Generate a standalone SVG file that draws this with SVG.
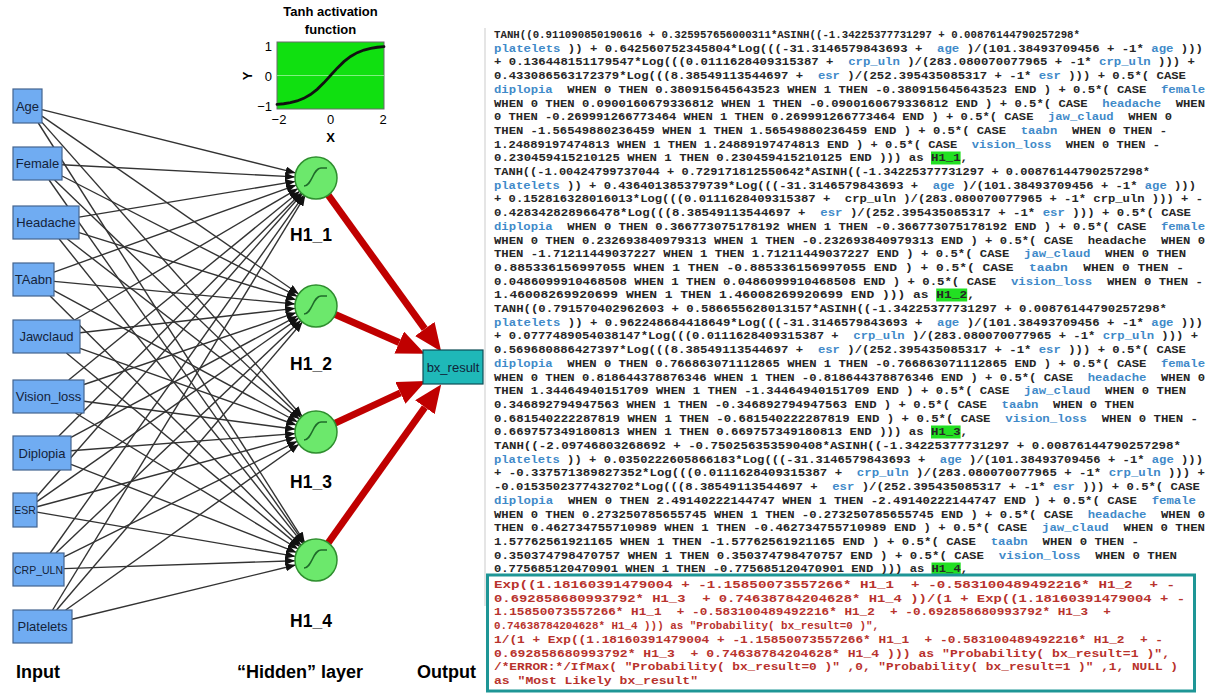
<svg xmlns="http://www.w3.org/2000/svg" xmlns:xlink="http://www.w3.org/1999/xlink" width="1209" height="696" viewBox="0 0 1209 696">
<style>
.lbl{font-family:"Liberation Sans",Arial,sans-serif;fill:#000}
.b{font-weight:bold}
.inbox{fill:#70acf2;stroke:#44648f;stroke-width:1.2}
.intext{font-family:"Liberation Sans",Arial,sans-serif;font-size:13px;fill:#14233a;text-anchor:middle}
.hid{fill:#6ce86c;stroke:#2f8f2f;stroke-width:1.5}
.sig{fill:none;stroke:#1f6b2a;stroke-width:1.6}
.hl{font-family:"Liberation Sans",Arial,sans-serif;font-size:17.5px;font-weight:bold;text-anchor:middle;fill:#000}
.w{stroke:#333;stroke-width:1.4;fill:none;marker-end:url(#ah)}
.red{stroke:#c00000;stroke-width:7;fill:none;marker-end:url(#rh)}
.code{font-family:"Liberation Mono","Courier New",monospace;font-size:11.5px;font-weight:bold;fill:#262626;white-space:pre}
.v{fill:#3f8ac9}
.rt{fill:#b8322c}
.hi{fill:#22e022}
.tick{font-family:"Liberation Sans",Arial,sans-serif;font-size:13px;fill:#000}
</style>
<defs>
<marker id="ah" markerUnits="userSpaceOnUse" viewBox="0 0 10 8" refX="10" refY="4" markerWidth="10" markerHeight="8" orient="auto"><path d="M0,0 L10,4 L0,8 z" fill="#111"/></marker>
<marker id="rh" markerUnits="userSpaceOnUse" viewBox="0 -12 28 24" refX="0" refY="0" markerWidth="28" markerHeight="24" orient="auto"><path d="M0,-12 L28,0 L0,12 z" fill="#c00000"/></marker>
<path id="sg" class="sig" d="M-12,8 C-4,8 -3,-10 5,-10 L11,-10"/>
</defs>
<rect x="0" y="0" width="1209" height="696" fill="#fff"/>

<g id="connectors">
<path class="w" d="M42,109.6 L295.6,172.9"/>
<path class="w" d="M42,116.1 L298.7,294"/>
<path class="w" d="M42,122.4 L302.1,416.3"/>
<path class="w" d="M38.3,123 L304.7,542.3"/>
<path class="w" d="M62,164.8 L295,176.9"/>
<path class="w" d="M62,176 L297.3,296.4"/>
<path class="w" d="M54.6,180 L300.9,417.4"/>
<path class="w" d="M49.1,180 L303.9,542.8"/>
<path class="w" d="M79,217.1 L295.3,181.4"/>
<path class="w" d="M79,232.7 L295.9,299.8"/>
<path class="w" d="M67.3,239 L299.4,419.1"/>
<path class="w" d="M59.2,239 L302.9,543.6"/>
<path class="w" d="M54,272.1 L296.2,185.1"/>
<path class="w" d="M54,281.4 L295.1,304"/>
<path class="w" d="M54,290.6 L297.5,422"/>
<path class="w" d="M50.1,296 L301.1,545.2"/>
<path class="w" d="M74.6,320 L297.9,188.6"/>
<path class="w" d="M80,332.7 L295.1,308.4"/>
<path class="w" d="M80,348.4 L296.2,425"/>
<path class="w" d="M66.4,353 L299.8,546.6"/>
<path class="w" d="M68.7,380 L299.7,191.3"/>
<path class="w" d="M84,384.5 L296.1,312.7"/>
<path class="w" d="M84,401.2 L295.2,429.2"/>
<path class="w" d="M75.5,413 L298.1,549"/>
<path class="w" d="M58.9,436 L301.2,192.9"/>
<path class="w" d="M71,437.4 L297.5,315.9"/>
<path class="w" d="M71,450.8 L295.1,433.6"/>
<path class="w" d="M71,464.3 L296.4,552.4"/>
<path class="w" d="M37,496.3 L302.2,193.8"/>
<path class="w" d="M37,501.6 L298.8,318.1"/>
<path class="w" d="M37,506.8 L295.7,437.4"/>
<path class="w" d="M37,512.1 L295.3,556.4"/>
<path class="w" d="M50.2,553 L303.9,195.1"/>
<path class="w" d="M55.9,553 L300.8,320.5"/>
<path class="w" d="M64,556.9 L297.2,441.3"/>
<path class="w" d="M64,568.6 L295,560.7"/>
<path class="w" d="M52.6,610 L305.1,195.9"/>
<path class="w" d="M56.6,610 L302.4,322"/>
<path class="w" d="M65.7,610 L298.9,444.2"/>
<path class="w" d="M72,619.3 L295.6,565"/>
<path class="red" d="M326,192 L424.8,328.9"/>
<path class="red" d="M333,313.5 L399.2,342.5"/>
<path class="red" d="M333,424.2 L400.4,392.9"/>
<path class="red" d="M326,546 L424.9,407.2"/>
</g>

<g id="input-age"><rect class="inbox" x="13" y="89" width="29" height="34"/><text class="intext" x="27.5" y="111">Age</text></g>
<g id="input-female"><rect class="inbox" x="13" y="147" width="49" height="33"/><text class="intext" x="37.5" y="168">Female</text></g>
<g id="input-headache"><rect class="inbox" x="13" y="206" width="66" height="33"/><text class="intext" x="46" y="227">Headache</text></g>
<g id="input-taabn"><rect class="inbox" x="13" y="263" width="41" height="33"/><text class="intext" x="33.5" y="284">TAabn</text></g>
<g id="input-jawclaud"><rect class="inbox" x="13" y="320" width="67" height="33"/><text class="intext" x="46.5" y="341">Jawclaud</text></g>
<g id="input-vision-loss"><rect class="inbox" x="13" y="380" width="71" height="33"/><text class="intext" x="48.5" y="401">Vision_loss</text></g>
<g id="input-diplopia"><rect class="inbox" x="13" y="436" width="58" height="34"/><text class="intext" x="42" y="458">Diplopia</text></g>
<g id="input-esr"><rect class="inbox" x="13" y="493" width="24" height="34"/><text class="intext" x="25" y="514" style="font-size:10.5px">ESR</text></g>
<g id="input-crp-uln"><rect class="inbox" x="13" y="553" width="51" height="33"/><text class="intext" x="38.5" y="573.5" style="font-size:10.5px">CRP_ULN</text></g>
<g id="input-platelets"><rect class="inbox" x="13" y="610" width="59" height="33"/><text class="intext" x="42.5" y="631">Platelets</text></g>

<g id="hidden-h1-1"><circle class="hid" cx="316" cy="178" r="21"/><use href="#sg" x="316" y="178"/><text class="hl" x="311" y="241">H1_1</text></g>
<g id="hidden-h1-2"><circle class="hid" cx="316" cy="306" r="21"/><use href="#sg" x="316" y="306"/><text class="hl" x="311" y="370">H1_2</text></g>
<g id="hidden-h1-3"><circle class="hid" cx="316" cy="432" r="21"/><use href="#sg" x="316" y="432"/><text class="hl" x="311" y="488">H1_3</text></g>
<g id="hidden-h1-4"><circle class="hid" cx="316" cy="560" r="21"/><use href="#sg" x="316" y="560"/><text class="hl" x="311" y="627">H1_4</text></g>

<g id="output-bx-result"><rect x="423" y="350" width="60" height="34" fill="#1fb8b8" stroke="#0d4d55" stroke-width="1.2"/><text class="intext" x="453" y="372" style="fill:#10243a">bx_result</text></g>

<g id="tanh-chart">
<text class="lbl b" x="330.5" y="16" font-size="13" text-anchor="middle">Tanh activation</text>
<text class="lbl b" x="330.5" y="34" font-size="13" text-anchor="middle">function</text>
<rect x="277" y="42" width="107" height="67" fill="#10e010" stroke="#6a6a6a" stroke-width="1"/>
<line x1="277" y1="75.5" x2="384" y2="75.5" stroke="#80f080" stroke-width="1"/>
<polyline fill="none" stroke="#111" stroke-width="2.8" stroke-linecap="round" points="277,104.42 283.69,103.74 290.38,102.65 297.06,100.95 303.75,98.35 310.44,94.55 317.13,89.36 323.81,82.85 330.5,75.5 337.19,68.15 343.88,61.64 350.56,56.45 357.25,52.65 363.94,50.05 370.63,48.35 377.31,47.26 384,46.58"/>
<text class="tick" x="272" y="51" text-anchor="end">1</text>
<text class="tick" x="272" y="81" text-anchor="end">0</text>
<text class="tick" x="272" y="111" text-anchor="end">−1</text>
<text class="tick" x="279" y="124" text-anchor="middle">−2</text>
<text class="tick" x="330.5" y="124" text-anchor="middle">0</text>
<text class="tick" x="383" y="124" text-anchor="middle">2</text>
<text class="lbl b" x="330.5" y="142" font-size="13" text-anchor="middle">X</text>
<text class="lbl b" x="0" y="0" font-size="13" text-anchor="middle" transform="translate(252,76) rotate(-90)">Y</text>
</g>

<g id="layer-labels">
<text class="lbl b" x="16" y="678" font-size="18">Input</text>
<text class="lbl b" x="237" y="678" font-size="18">“Hidden” layer</text>
<text class="lbl b" x="417" y="678" font-size="18">Output</text>
</g>

<g id="code-panel" xml:space="preserve">
<line x1="485" y1="28" x2="485" y2="606" stroke="#dcdcdc" stroke-width="1.5"/>
<rect class="hi" x="931" y="151.5" width="29.6" height="13"/>
<rect class="hi" x="936.2" y="288.5" width="31" height="13"/>
<rect class="hi" x="931" y="425.5" width="29.6" height="13"/>
<rect class="hi" x="931.5" y="562.5" width="29.2" height="13"/>
<rect x="487.5" y="575" width="707" height="116" fill="none" stroke="#1e9696" stroke-width="3"/>
<text class="code" x="494" y="38" textLength="586" lengthAdjust="spacingAndGlyphs">TANH((0.911090850190616 + 0.325957656000311*ASINH((-1.34225377731297 + 0.00876144790257298*</text>
<text class="code" x="494" y="51.7" textLength="709" lengthAdjust="spacingAndGlyphs"><tspan class="v">platelets</tspan> )) + 0.642560752345804*Log(((-31.3146579843693 +  <tspan class="v">age</tspan> )/(101.38493709456 + -1* <tspan class="v">age</tspan> )))</text>
<text class="code" x="494" y="65.4" textLength="701" lengthAdjust="spacingAndGlyphs">+ 0.136448151179547*Log(((0.0111628409315387 +  <tspan class="v">crp_uln</tspan> )/(283.080070077965 + -1* <tspan class="v">crp_uln</tspan> ))) +</text>
<text class="code" x="494" y="79.1" textLength="692" lengthAdjust="spacingAndGlyphs">0.433086563172379*Log(((8.38549113544697 +  <tspan class="v">esr</tspan> )/(252.395435085317 + -1* <tspan class="v">esr</tspan> ))) + 0.5*( CASE</text>
<text class="code" x="494" y="92.8" textLength="711" lengthAdjust="spacingAndGlyphs"><tspan class="v">diplopia</tspan>  WHEN 0 THEN 0.380915645643523 WHEN 1 THEN -0.380915645643523 END ) + 0.5*( CASE  <tspan class="v">female</tspan></text>
<text class="code" x="494" y="106.5" textLength="711" lengthAdjust="spacingAndGlyphs">WHEN 0 THEN 0.0900160679336812 WHEN 1 THEN -0.0900160679336812 END ) + 0.5*( CASE  <tspan class="v">headache</tspan>  WHEN</text>
<text class="code" x="494" y="120.2" textLength="678" lengthAdjust="spacingAndGlyphs">0 THEN -0.269991266773464 WHEN 1 THEN 0.269991266773464 END ) + 0.5*( CASE  <tspan class="v">jaw_claud</tspan>  WHEN 0</text>
<text class="code" x="494" y="133.9" textLength="673" lengthAdjust="spacingAndGlyphs">THEN -1.56549880236459 WHEN 1 THEN 1.56549880236459 END ) + 0.5*( CASE  <tspan class="v">taabn</tspan>  WHEN 0 THEN -</text>
<text class="code" x="494" y="147.6" textLength="666" lengthAdjust="spacingAndGlyphs">1.24889197474813 WHEN 1 THEN 1.24889197474813 END ) + 0.5*( CASE  <tspan class="v">vision_loss</tspan>  WHEN 0 THEN -</text>
<text class="code" x="494" y="161.3" textLength="474" lengthAdjust="spacingAndGlyphs">0.230459415210125 WHEN 1 THEN 0.230459415210125 END ))) as H1_1,</text>
<text class="code" x="494" y="175" textLength="656" lengthAdjust="spacingAndGlyphs">TANH((-1.00424799737044 + 0.729171812550642*ASINH((-1.34225377731297 + 0.00876144790257298*</text>
<text class="code" x="494" y="188.7" textLength="702" lengthAdjust="spacingAndGlyphs"><tspan class="v">platelets</tspan> )) + 0.436401385379739*Log(((-31.3146579843693 +  <tspan class="v">age</tspan> )/(101.38493709456 + -1* <tspan class="v">age</tspan> )))</text>
<text class="code" x="494" y="202.4" textLength="709" lengthAdjust="spacingAndGlyphs">+ 0.152816328016013*Log(((0.0111628409315387 +  crp_uln )/(283.080070077965 + -1* crp_uln ))) + -</text>
<text class="code" x="494" y="216.1" textLength="697" lengthAdjust="spacingAndGlyphs">0.428342828966478*Log(((8.38549113544697 +  <tspan class="v">esr</tspan> )/(252.395435085317 + -1* <tspan class="v">esr</tspan> ))) + 0.5*( CASE</text>
<text class="code" x="494" y="229.8" textLength="711" lengthAdjust="spacingAndGlyphs"><tspan class="v">diplopia</tspan>  WHEN 0 THEN 0.366773075178192 WHEN 1 THEN -0.366773075178192 END ) + 0.5*( CASE  <tspan class="v">female</tspan></text>
<text class="code" x="494" y="243.5" textLength="711" lengthAdjust="spacingAndGlyphs">WHEN 0 THEN 0.232693840979313 WHEN 1 THEN -0.232693840979313 END ) + 0.5*( CASE  headache  WHEN 0</text>
<text class="code" x="494" y="257.2" textLength="692" lengthAdjust="spacingAndGlyphs">THEN -1.71211449037227 WHEN 1 THEN 1.71211449037227 END ) + 0.5*( CASE  <tspan class="v">jaw_claud</tspan>  WHEN 0 THEN</text>
<text class="code" x="494" y="270.9" textLength="690" lengthAdjust="spacingAndGlyphs">0.885336156997055 WHEN 1 THEN -0.885336156997055 END ) + 0.5*( CASE  <tspan class="v">taabn</tspan>  WHEN 0 THEN -</text>
<text class="code" x="494" y="284.6" textLength="709" lengthAdjust="spacingAndGlyphs">0.0486099910468508 WHEN 1 THEN 0.0486099910468508 END ) + 0.5*( CASE  <tspan class="v">vision_loss</tspan>  WHEN 0 THEN -</text>
<text class="code" x="494" y="298.3" textLength="481" lengthAdjust="spacingAndGlyphs">1.46008269920699 WHEN 1 THEN 1.46008269920699 END ))) as H1_2,</text>
<text class="code" x="494" y="312" textLength="673" lengthAdjust="spacingAndGlyphs">TANH((0.791570402962603 + 0.586655628013157*ASINH((-1.34225377731297 + 0.00876144790257298*</text>
<text class="code" x="494" y="325.7" textLength="709" lengthAdjust="spacingAndGlyphs"><tspan class="v">platelets</tspan> )) + 0.962248684418649*Log(((-31.3146579843693 +  <tspan class="v">age</tspan> )/(101.38493709456 + -1* <tspan class="v">age</tspan> )))</text>
<text class="code" x="494" y="339.4" textLength="704" lengthAdjust="spacingAndGlyphs">+ 0.0777489054038147*Log(((0.0111628409315387 +  <tspan class="v">crp_uln</tspan> )/(283.080070077965 + -1* <tspan class="v">crp_uln</tspan> ))) +</text>
<text class="code" x="494" y="353.1" textLength="692" lengthAdjust="spacingAndGlyphs">0.569680886427397*Log(((8.38549113544697 +  <tspan class="v">esr</tspan> )/(252.395435085317 + -1* <tspan class="v">esr</tspan> ))) + 0.5*( CASE</text>
<text class="code" x="494" y="366.8" textLength="711" lengthAdjust="spacingAndGlyphs"><tspan class="v">diplopia</tspan>  WHEN 0 THEN 0.766863071112865 WHEN 1 THEN -0.766863071112865 END ) + 0.5*( CASE  <tspan class="v">female</tspan></text>
<text class="code" x="494" y="380.5" textLength="711" lengthAdjust="spacingAndGlyphs">WHEN 0 THEN 0.818644378876346 WHEN 1 THEN -0.818644378876346 END ) + 0.5*( CASE  <tspan class="v">headache</tspan>  WHEN 0</text>
<text class="code" x="494" y="394.2" textLength="692" lengthAdjust="spacingAndGlyphs">THEN 1.34464940151709 WHEN 1 THEN -1.34464940151709 END ) + 0.5*( CASE  <tspan class="v">jaw_claud</tspan>  WHEN 0 THEN</text>
<text class="code" x="494" y="407.9" textLength="640" lengthAdjust="spacingAndGlyphs">0.346892794947563 WHEN 1 THEN -0.346892794947563 END ) + 0.5*( CASE  <tspan class="v">taabn</tspan>  WHEN 0 THEN</text>
<text class="code" x="494" y="421.6" textLength="704" lengthAdjust="spacingAndGlyphs">0.681540222287819 WHEN 1 THEN -0.681540222287819 END ) + 0.5*( CASE  <tspan class="v">vision_loss</tspan>  WHEN 0 THEN -</text>
<text class="code" x="494" y="435.3" textLength="474" lengthAdjust="spacingAndGlyphs">0.669757349180813 WHEN 1 THEN 0.669757349180813 END ))) as H1_3,</text>
<text class="code" x="494" y="449" textLength="687" lengthAdjust="spacingAndGlyphs">TANH((-2.09746803268692 + -0.750256353590408*ASINH((-1.34225377731297 + 0.00876144790257298*</text>
<text class="code" x="494" y="462.7" textLength="709" lengthAdjust="spacingAndGlyphs"><tspan class="v">platelets</tspan> )) + 0.0350222605866183*Log(((-31.3146579843693 +  <tspan class="v">age</tspan> )/(101.38493709456 + -1* <tspan class="v">age</tspan> )))</text>
<text class="code" x="494" y="476.4" textLength="711" lengthAdjust="spacingAndGlyphs">+ -0.337571389827352*Log(((0.0111628409315387 +  <tspan class="v">crp_uln</tspan> )/(283.080070077965 + -1* <tspan class="v">crp_uln</tspan> ))) +</text>
<text class="code" x="494" y="490.1" textLength="706" lengthAdjust="spacingAndGlyphs">-0.0153502377432702*Log(((8.38549113544697 +  <tspan class="v">esr</tspan> )/(252.395435085317 + -1* <tspan class="v">esr</tspan> ))) + 0.5*( CASE</text>
<text class="code" x="494" y="503.8" textLength="702" lengthAdjust="spacingAndGlyphs"><tspan class="v">diplopia</tspan>  WHEN 0 THEN 2.49140222144747 WHEN 1 THEN -2.49140222144747 END ) + 0.5*( CASE  <tspan class="v">female</tspan></text>
<text class="code" x="494" y="517.5" textLength="711" lengthAdjust="spacingAndGlyphs">WHEN 0 THEN 0.273250785655745 WHEN 1 THEN -0.273250785655745 END ) + 0.5*( CASE  <tspan class="v">headache</tspan>  WHEN 0</text>
<text class="code" x="494" y="531.2" textLength="711" lengthAdjust="spacingAndGlyphs">THEN 0.462734755710989 WHEN 1 THEN -0.462734755710989 END ) + 0.5*( CASE  <tspan class="v">jaw_claud</tspan>  WHEN 0 THEN</text>
<text class="code" x="494" y="544.9" textLength="645" lengthAdjust="spacingAndGlyphs">1.57762561921165 WHEN 1 THEN -1.57762561921165 END ) + 0.5*( CASE  <tspan class="v">taabn</tspan>  WHEN 0 THEN -</text>
<text class="code" x="494" y="558.6" textLength="683" lengthAdjust="spacingAndGlyphs">0.350374798470757 WHEN 1 THEN 0.350374798470757 END ) + 0.5*( CASE  <tspan class="v">vision_loss</tspan>  WHEN 0 THEN</text>
<text class="code" x="494" y="572.3" textLength="474" lengthAdjust="spacingAndGlyphs">0.775685120470901 WHEN 1 THEN -0.775685120470901 END ))) as H1_4,</text>
<text class="code rt" x="494" y="588" textLength="681" lengthAdjust="spacingAndGlyphs">Exp((1.18160391479004 + -1.15850073557266* H1_1  + -0.583100489492216* H1_2  + -</text>
<text class="code rt" x="494" y="601.7" textLength="691" lengthAdjust="spacingAndGlyphs">0.692858680993792* H1_3  + 0.74638784204628* H1_4 ))/(1 + Exp((1.18160391479004 + -</text>
<text class="code rt" x="494" y="615.4" textLength="617" lengthAdjust="spacingAndGlyphs">1.15850073557266* H1_1  + -0.583100489492216* H1_2  + -0.692858680993792* H1_3  +</text>
<text class="code rt" x="494" y="629.1" textLength="385" lengthAdjust="spacingAndGlyphs">0.74638784204628* H1_4 ))) as "Probability( bx_result=0 )",</text>
<text class="code rt" x="494" y="642.8" textLength="669" lengthAdjust="spacingAndGlyphs">1/(1 + Exp((1.18160391479004 + -1.15850073557266* H1_1  + -0.583100489492216* H1_2  + -</text>
<text class="code rt" x="494" y="656.5" textLength="676" lengthAdjust="spacingAndGlyphs">0.692858680993792* H1_3  + 0.74638784204628* H1_4 ))) as "Probability( bx_result=1 )",</text>
<text class="code rt" x="494" y="670.2" textLength="684" lengthAdjust="spacingAndGlyphs">/*ERROR:*/IfMax( "Probability( bx_result=0 )" ,0, "Probability( bx_result=1 )" ,1, NULL )</text>
<text class="code rt" x="494" y="683.9" textLength="204" lengthAdjust="spacingAndGlyphs">as "Most Likely bx_result"</text>
</g>
</svg>
